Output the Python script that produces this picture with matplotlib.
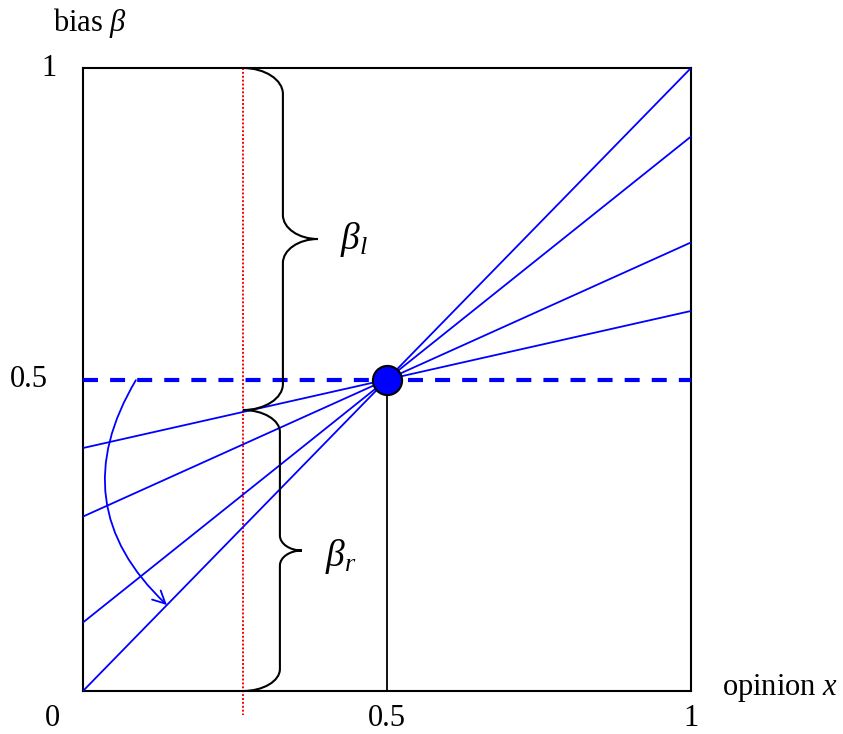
import numpy as np
import matplotlib
matplotlib.use("Agg")
import matplotlib.pyplot as plt
from matplotlib.path import Path
from matplotlib.patches import PathPatch, FancyArrowPatch

plt.rcParams['font.family'] = ['Liberation Serif', 'DejaVu Serif']
plt.rcParams['mathtext.fontset'] = 'custom'
plt.rcParams['mathtext.it'] = 'Liberation Serif:italic'
plt.rcParams['mathtext.rm'] = 'Liberation Serif'

# data
pivot = (0.5, 0.5)
line_left_y = [0.0, 0.11, 0.28, 0.39]     # value at opinion x = 0
line_right_y = [1.0, 0.89, 0.72, 0.61]    # value at opinion x = 1
threshold_x = 0.263                        # red dotted line
brace_upper = (1.0, 0.451)
brace_lower = (0.451, 0.0)
arrow_start = (0.087, 0.499)
arrow_end = (0.138, 0.138)
xtick_vals = [0, 0.5, 1]
xtick_labels = ["0", "0.5", "1"]
ytick_vals = [0.5, 1]
ytick_labels = ["0.5", "1"]

W, H = 843, 734
fig = plt.figure(figsize=(W / 100, H / 100), dpi=100)
L, R, T, B = 83, 691, 68, 691
ax = fig.add_axes([L / W, (H - B) / H, (R - L) / W, (B - T) / H])
ax.set_xlim(0, 1)
ax.set_ylim(0, 1)
ax.set_xticks([])
ax.set_yticks([])
for s in ax.spines.values():
    s.set_linewidth(1.5)
    s.set_color('black')

px = 1.0 / (R - L)   # data per pixel in x
py = 1.0 / (B - T)   # data per pixel in y

# blue lines
for yl, yr in zip(line_left_y, line_right_y):
    ax.plot([0, 1], [yl, yr], color='#0000ff', lw=1.3, zorder=3)

# dashed horizontal
ax.plot([0, 1], [0.5, 0.5], color='#0000ff', lw=3, dashes=(3.6, 2.9), zorder=3)

# black vertical at 0.5
ax.plot([pivot[0], pivot[0]], [0, pivot[1]], color='black', lw=1.3, zorder=3)

# red dotted line
ax.plot([threshold_x, threshold_x], [1, -24 * py], color='#ff0000', lw=1.4, ls=(0, (1, 1)),
        clip_on=False, zorder=2)

# braces
def brace(ytop, ybot, x0, xs, xt, r1, r2):
    k = 0.55
    ym = (ytop + ybot) / 2
    dx1 = xs - x0
    dx2 = xt - xs
    verts = [
        (x0, ytop),
        (x0 + k * dx1, ytop), (xs, ytop - r1 + k * r1), (xs, ytop - r1),
        (xs, ym + r2),
        (xs, ym + r2 - k * r2), (xt - k * dx2, ym), (xt, ym),
        (xt - k * dx2, ym), (xs, ym - r2 + k * r2), (xs, ym - r2),
        (xs, ybot + r1),
        (xs, ybot + r1 - k * r1), (x0 + k * dx1, ybot), (x0, ybot),
    ]
    codes = [Path.MOVETO,
             Path.CURVE4, Path.CURVE4, Path.CURVE4,
             Path.LINETO,
             Path.CURVE4, Path.CURVE4, Path.CURVE4,
             Path.CURVE4, Path.CURVE4, Path.CURVE4,
             Path.LINETO,
             Path.CURVE4, Path.CURVE4, Path.CURVE4]
    ax.add_patch(PathPatch(Path(verts, codes), fill=False, ec='black', lw=1.5, zorder=4))

brace(brace_upper[0], brace_upper[1], threshold_x,
      threshold_x + 40 * px, threshold_x + 75 * px, 26 * py, 24 * py)
brace(brace_lower[0], brace_lower[1], threshold_x,
      threshold_x + 37 * px, threshold_x + 59 * px, 22 * py, 15 * py)

ax.text(threshold_x + 97 * px, (brace_upper[0] + brace_upper[1]) / 2, r'$\beta_l$',
        fontsize=27, ha='left', va='center')
ax.text(threshold_x + 82 * px, (brace_lower[0] + brace_lower[1]) / 2 - 6 * py, r'$\beta_r$',
        fontsize=27, ha='left', va='center')

# curved arrow
arr = FancyArrowPatch(arrow_start, arrow_end, connectionstyle='arc3,rad=0.4',
                      arrowstyle='->,head_length=9,head_width=4.5', color='#0000ff',
                      lw=1.3, shrinkA=0, shrinkB=0, zorder=5)
ax.add_patch(arr)

# pivot point
ax.plot([pivot[0]], [pivot[1]], 'o', ms=21, mfc='#0000ff', mec='black', mew=1.5,
        zorder=6, clip_on=False)

# tick labels
for v, lab in zip(xtick_vals, xtick_labels):
    xpos = v if v > 0 else -31 * px
    ax.text(xpos, -27 * py, lab, fontsize=22, ha='center', va='center', clip_on=False)
ytick_offsets = [-35, -26]
for v, lab, off in zip(ytick_vals, ytick_labels, ytick_offsets):
    ax.text(off * px, v, lab, fontsize=22, ha='right', va='center', clip_on=False)

ax.text(-30 * px, 1 + 45 * py, r'bias $\beta$', fontsize=22, ha='left', va='center')
ax.text(1 + 31 * px, 3 * py, r'opinion $x$', fontsize=22, ha='left', va='center')

fig.savefig('out.png', dpi=100)
